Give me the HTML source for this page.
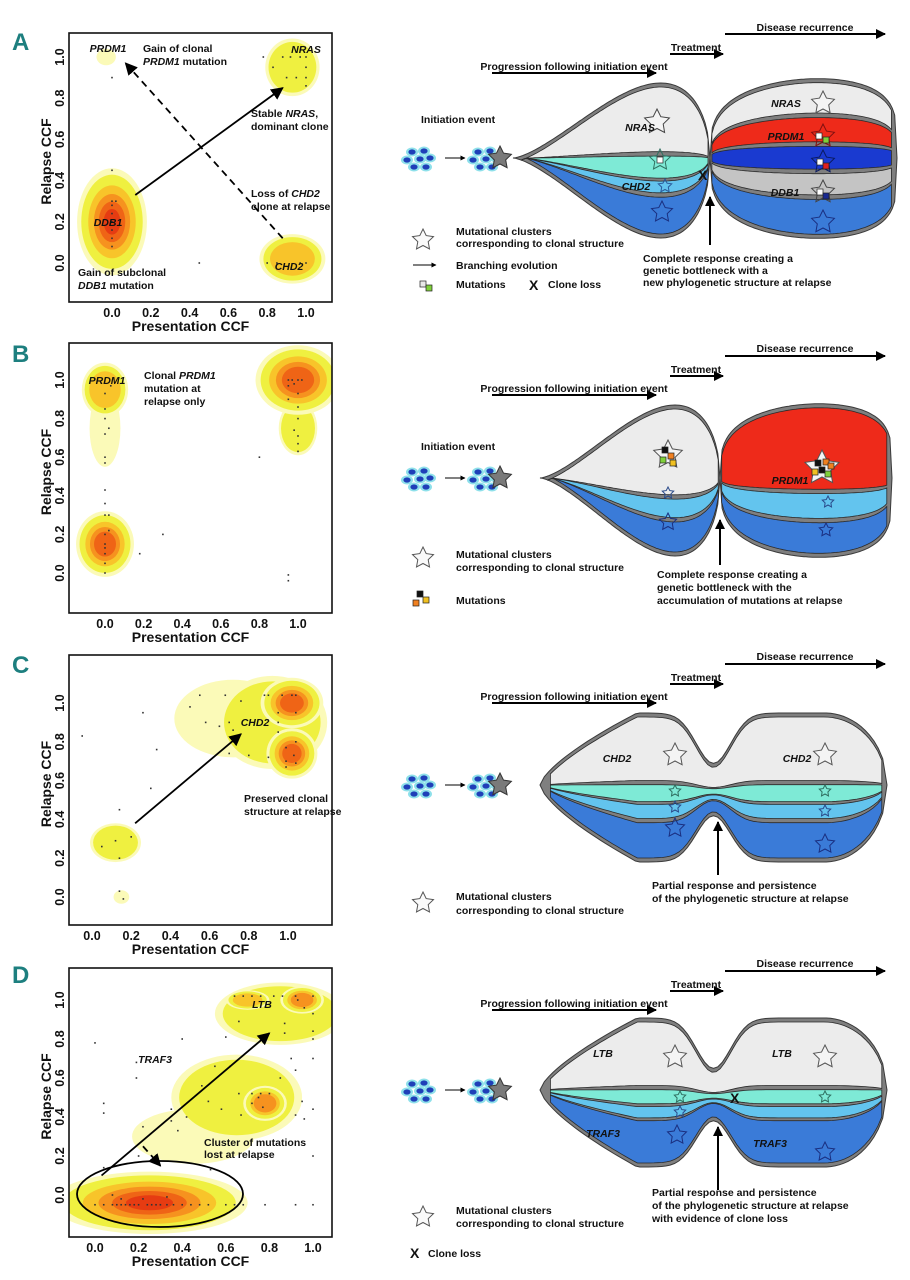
<!DOCTYPE html>
<html><head><meta charset="utf-8"><style>
html,body{margin:0;padding:0;background:#fff}
svg{display:block}
text{font-family:"Liberation Sans Narrow","Liberation Sans",sans-serif;font-weight:bold;fill:#111}
.d{font-size:10.5px}
.it{font-style:italic}
.tk{font-family:"Liberation Sans",sans-serif;font-size:12.5px}
.ttl{font-family:"Liberation Sans",sans-serif;font-size:14px}
.pl{font-size:24px;fill:#1d7f7f;font-family:"Liberation Sans Narrow","Liberation Sans",sans-serif}
</style></head><body>
<svg id="fig" xmlns="http://www.w3.org/2000/svg" width="910" height="1280" viewBox="0 0 910 1280">
<defs>
<marker id="ah" viewBox="0 0 10 10" refX="9" refY="5" markerWidth="7" markerHeight="7" orient="auto-start-reverse"><path d="M0,0 L10,5 L0,10 z" fill="#000"/></marker>
<marker id="ahs" viewBox="0 0 10 10" refX="9" refY="5" markerWidth="5" markerHeight="5" orient="auto"><path d="M0,0 L10,5 L0,10 z" fill="#000"/></marker>
</defs>
<g id="plots"></g>
<g id="diagrams"></g>

<text class="pl" x="12" y="50">A</text>
<text class="pl" x="12" y="362">B</text>
<text class="pl" x="12" y="673">C</text>
<text class="pl" x="12" y="983">D</text>

<g class="d">
<text class="d it" x="108" y="52" text-anchor="middle">PRDM1</text>
<text class="d" x="143" y="52">Gain of clonal</text>
<text class="d" x="143" y="65"><tspan class="it">PRDM1</tspan> mutation</text>
<text class="d it" x="306" y="53" text-anchor="middle">NRAS</text>
<text class="d" x="251" y="117">Stable <tspan class="it">NRAS</tspan>,</text>
<text class="d" x="251" y="130">dominant clone</text>
<text class="d" x="251" y="197">Loss of <tspan class="it">CHD2</tspan></text>
<text class="d" x="251" y="210">clone at relapse</text>
<text class="d it" x="108" y="226" text-anchor="middle">DDB1</text>
<text class="d" x="78" y="276">Gain of subclonal</text>
<text class="d" x="78" y="289"><tspan class="it">DDB1</tspan> mutation</text>
<text class="d it" x="289" y="270" text-anchor="middle">CHD2</text>
</g>
<g>
<text class="d it" x="107" y="384" text-anchor="middle">PRDM1</text>
<text class="d" x="144" y="379">Clonal <tspan class="it">PRDM1</tspan></text>
<text class="d" x="144" y="392">mutation at</text>
<text class="d" x="144" y="405">relapse only</text>
</g>
<g>
<text class="d it" x="255" y="726" text-anchor="middle">CHD2</text>
<text class="d" x="244" y="802">Preserved clonal</text>
<text class="d" x="244" y="815">structure at relapse</text>
</g>
<g>
<text class="d it" x="262" y="1008" text-anchor="middle">LTB</text>
<text class="d it" x="155" y="1063" text-anchor="middle">TRAF3</text>
<text class="d" x="204" y="1146">Cluster of mutations</text>
<text class="d" x="204" y="1158">lost at relapse</text>
</g>

<g>
<text class="d" x="805" y="31" text-anchor="middle">Disease recurrence</text>
<text class="d" x="696" y="51" text-anchor="middle">Treatment</text>
<text class="d" x="574" y="70" text-anchor="middle">Progression following initiation event</text>
<text class="d" x="421" y="123">Initiation event</text>
<text class="d it" x="640" y="131" text-anchor="middle">NRAS</text>
<text class="d it" x="636" y="190" text-anchor="middle">CHD2</text>
<text class="d it" x="786" y="107" text-anchor="middle">NRAS</text>
<text class="d it" x="786" y="140" text-anchor="middle">PRDM1</text>
<text class="d it" x="785" y="196" text-anchor="middle">DDB1</text>
<text class="d" x="456" y="235">Mutational clusters</text>
<text class="d" x="456" y="247">corresponding to clonal structure</text>
<text class="d" x="456" y="269">Branching evolution</text>
<text class="d" x="456" y="288">Mutations</text>
<text x="529" y="290" style="font-size:14px">X</text>
<text class="d" x="548" y="288">Clone loss</text>
<text class="d" x="643" y="262">Complete response creating a</text>
<text class="d" x="643" y="274">genetic bottleneck with a</text>
<text class="d" x="643" y="286">new phylogenetic structure at relapse</text>
</g>
<g>
<text class="d" x="805" y="352" text-anchor="middle">Disease recurrence</text>
<text class="d" x="696" y="373" text-anchor="middle">Treatment</text>
<text class="d" x="574" y="392" text-anchor="middle">Progression following initiation event</text>
<text class="d" x="421" y="450">Initiation event</text>
<text class="d it" x="790" y="484" text-anchor="middle">PRDM1</text>
<text class="d" x="456" y="558">Mutational clusters</text>
<text class="d" x="456" y="571">corresponding to clonal structure</text>
<text class="d" x="456" y="604">Mutations</text>
<text class="d" x="657" y="578">Complete response creating a</text>
<text class="d" x="657" y="591">genetic bottleneck with the</text>
<text class="d" x="657" y="604">accumulation of mutations at relapse</text>
</g>
<g>
<text class="d" x="805" y="660" text-anchor="middle">Disease recurrence</text>
<text class="d" x="696" y="681" text-anchor="middle">Treatment</text>
<text class="d" x="574" y="700" text-anchor="middle">Progression following initiation event</text>
<text class="d it" x="617" y="762" text-anchor="middle">CHD2</text>
<text class="d it" x="797" y="762" text-anchor="middle">CHD2</text>
<text class="d" x="456" y="900">Mutational clusters</text>
<text class="d" x="456" y="914">corresponding to clonal structure</text>
<text class="d" x="652" y="889">Partial response and persistence</text>
<text class="d" x="652" y="902">of the phylogenetic structure at relapse</text>
</g>
<g>
<text class="d" x="805" y="967" text-anchor="middle">Disease recurrence</text>
<text class="d" x="696" y="988" text-anchor="middle">Treatment</text>
<text class="d" x="574" y="1007" text-anchor="middle">Progression following initiation event</text>
<text class="d it" x="603" y="1057" text-anchor="middle">LTB</text>
<text class="d it" x="782" y="1057" text-anchor="middle">LTB</text>
<text class="d it" x="603" y="1137" text-anchor="middle">TRAF3</text>
<text class="d it" x="770" y="1147" text-anchor="middle">TRAF3</text>
<text x="730" y="1103" style="font-size:14px">X</text>
<text class="d" x="456" y="1214">Mutational clusters</text>
<text class="d" x="456" y="1227">corresponding to clonal structure</text>
<text x="410" y="1258" style="font-size:14px">X</text>
<text class="d" x="428" y="1257">Clone loss</text>
<text class="d" x="652" y="1196">Partial response and persistence</text>
<text class="d" x="652" y="1209">of the phylogenetic structure at relapse</text>
<text class="d" x="652" y="1222">with evidence of clone loss</text>
</g>
</svg>
<script>
const tickValues=[0,0.2,0.4,0.6,0.8,1.0];
const tickLabels=['0.0','0.2','0.4','0.6','0.8','1.0'];
// density blobs: [cx, cy, rx, ry, levels] in CCF units
const blobsA=[[-0.03,1.0,0.05,0.04,1],[0.93,0.95,0.14,0.14,2],[0.0,0.2,0.18,0.26,6],[0.93,0.02,0.17,0.12,3]];
const blobsB=[[0.0,0.75,0.08,0.2,1],[0.0,0.95,0.12,0.14,3],[0.0,0.15,0.15,0.17,5],[1.0,0.75,0.1,0.14,2],[1.0,1.0,0.22,0.18,5]];
const blobsC=[[0.72,0.92,0.3,0.2,1],[0.92,0.9,0.28,0.24,2],[1.02,1.0,0.16,0.13,5],[1.02,0.74,0.13,0.13,5],[0.12,0.28,0.13,0.1,2],[0.15,0.0,0.04,0.035,1]];
const blobsD=[[0.45,0.3,0.28,0.14,1],[0.65,0.5,0.3,0.22,2],[0.78,0.47,0.1,0.09,4],[0.85,0.93,0.3,0.16,2],[0.7,1.0,0.1,0.05,3],[0.95,1.0,0.1,0.07,4],[0.25,-0.04,0.45,0.16,6]];
const pointsA=[[0.78,1.0],[0.88,1.0],[0.92,1.0],[0.97,1.0],[1.0,1.0],[0.83,0.95],[1.0,0.95],[0.9,0.9],[0.95,0.9],[1.0,0.9],[1.0,0.86],[0,0.08],[0,0.12],[0,0.16],[0,0.2],[0,0.24],[0,0.28],[0,0.3],[0.02,0.3],[0,0.45],[0,0.9],[0.8,0],[0.85,0],[0.97,0],[1.0,0],[0.45,0]];
const pointsB=[[0,0],[0,0.05],[0,0.1],[0,0.13],[0,0.15],[0,0.2],[0.02,0.22],[0,0.3],[0.02,0.3],[0,0.36],[0,0.43],[0,0.57],[0,0.6],[0,0.72],[0.02,0.75],[0,0.8],[0,0.85],[0,0.93],[0.03,0.97],[0.18,0.1],[0.3,0.2],[0.8,0.6],[0.95,-0.01],[0.95,-0.04],[0.95,1.0],[0.97,1.0],[1.0,1.0],[1.02,1.0],[0.98,0.98],[0.95,0.97],[1.0,0.93],[0.95,0.9],[1.0,0.86],[1.0,0.8],[0.98,0.74],[1.0,0.71],[1.0,0.67],[1.0,0.63]];
const pointsC=[[-0.05,0.83],[0.14,0.45],[0.14,0.2],[0.05,0.26],[0.12,0.29],[0.2,0.31],[0.14,0.03],[0.16,-0.01],[0.26,0.95],[0.3,0.56],[0.33,0.76],[0.5,0.98],[0.55,1.04],[0.68,1.04],[0.58,0.9],[0.65,0.88],[0.7,0.9],[0.72,0.86],[0.7,0.74],[0.8,0.73],[0.76,1.01],[0.88,1.04],[0.9,1.04],[0.97,1.04],[1.02,1.04],[1.04,1.04],[0.95,0.95],[1.04,0.95],[0.95,0.9],[0.95,0.85],[0.9,0.72],[0.99,0.77],[1.04,0.8],[0.99,0.7],[1.03,0.73],[0.99,0.67],[1.04,0.69]];
const pointsD=[[0,-0.05],[0.04,-0.05],[0.08,-0.05],[0.1,-0.05],[0.12,-0.05],[0.14,-0.05],[0.16,-0.05],[0.18,-0.05],[0.2,-0.05],[0.24,-0.05],[0.26,-0.05],[0.28,-0.05],[0.3,-0.05],[0.33,-0.05],[0.36,-0.05],[0.4,-0.05],[0.44,-0.05],[0.48,-0.05],[0.52,-0.05],[0.6,-0.05],[0.64,-0.05],[0.68,-0.05],[0.78,-0.05],[0.92,-0.05],[1.0,-0.05],[0.08,0],[0.12,-0.02],[0.22,-0.02],[0.33,-0.01],[0.04,0.14],[0.2,0.2],[0.53,0.13],[1.0,0.2],[0.04,0.47],[0.04,0.42],[0,0.78],[0.19,0.68],[0.19,0.6],[0.22,0.35],[0.35,0.44],[0.38,0.33],[0.35,0.38],[0.42,0.4],[0.49,0.56],[0.52,0.48],[0.58,0.44],[0.55,0.66],[0.62,0.66],[0.66,0.52],[0.67,0.41],[0.72,0.47],[0.72,0.52],[0.75,0.5],[0.77,0.45],[0.76,0.52],[0.8,0.52],[0.85,0.6],[0.92,0.64],[0.95,0.48],[1.0,0.44],[0.92,0.41],[0.96,0.39],[0.4,0.8],[0.6,0.81],[0.66,0.89],[0.64,1.02],[0.68,1.02],[0.72,1.02],[0.76,1.02],[0.82,1.02],[0.86,1.02],[0.92,1.02],[0.93,1.0],[0.96,0.96],[1.0,1.02],[1.0,0.93],[1.0,0.84],[1.0,0.8],[0.87,0.88],[0.87,0.83],[0.9,0.7],[1.0,0.7]];
const arrowsA=[[0.12,0.33,0.88,0.85,0],[0.88,0.12,0.07,0.97,1]];
const arrowsC=[[0.22,0.38,0.76,0.84,0]];
const arrowsD=[[0.03,0.1,0.8,0.83,0],[0.22,0.25,0.3,0.15,1]];

const NS='http://www.w3.org/2000/svg';
const plotsG=document.getElementById('plots');
const diagG=document.getElementById('diagrams');
const defs=document.querySelector('defs');
function mk(tag,parent){const e=document.createElementNS(NS,tag);parent.appendChild(e);return e;}
function sa(e,o){for(const k in o)e.setAttribute(k,o[k]);return e;}
const levelColors=['#fbfab8','#eff040','#f8c42a','#f6921f','#ef6416','#e63c12'];
const levelScale=[1,0.88,0.68,0.52,0.38,0.24];

function drawPlot(id,box,xr,yr,blobs,points,arrows){
  const g=mk('g',plotsG);
  
  
  const cp=mk('clipPath',defs);cp.setAttribute('id','clip-'+id);
  const cr=mk('rect',cp);sa(cr,{x:box[0],y:box[1],width:box[2]-box[0],height:box[3]-box[1]});
  const dg=mk('g',g);dg.setAttribute('clip-path','url(#clip-'+id+')');
  
  
  const xs=v=>xr[0]+v*(xr[1]-xr[0]);
  const ys=v=>yr[0]-v*(yr[0]-yr[1]);
  const ux=xr[1]-xr[0], uy=yr[0]-yr[1];
  blobs.forEach(b=>{
    for(let i=0;i<b[4];i++){
      const e=mk('ellipse',dg);
      sa(e,{cx:xs(b[0]),cy:ys(b[1]),rx:b[2]*ux*levelScale[i],ry:b[3]*uy*levelScale[i],fill:levelColors[i]});
      
      
    }
  });
  points.forEach(p=>{
    const c=mk('rect',dg);
    sa(c,{x:xs(p[0])-0.8,y:ys(p[1])-0.8,width:1.6,height:1.6,fill:'#333'});
    
    
  });
  arrows.forEach(a=>{
    const l=mk('line',g);
    sa(l,{x1:xs(a[0]),y1:ys(a[1]),x2:xs(a[2]),y2:ys(a[3]),stroke:'#000','stroke-width':1.8,'marker-end':'url(#ah)'});
    if(a[4])l.setAttribute('stroke-dasharray','7,5');
    
    
  });
  const r=mk('rect',g);
  sa(r,{x:box[0],y:box[1],width:box[2]-box[0],height:box[3]-box[1],fill:'none',stroke:'#111','stroke-width':1.6});
  
  
  tickValues.forEach((v,i)=>{
    const t=mk('text',g);t.textContent=tickLabels[i];
    sa(t,{x:xs(v),y:box[3]+15,'text-anchor':'middle','class':'tk'});
    
    
    const u=mk('text',g);u.textContent=tickLabels[i];
    sa(u,{x:0,y:0,'text-anchor':'middle','class':'tk',transform:'translate(64,'+ys(v)+') rotate(-90)'});
    
    
  });
  const xt=mk('text',g);xt.textContent='Presentation CCF';
  sa(xt,{x:(box[0]+box[2])/2-10,y:box[3]+29,'text-anchor':'middle','class':'ttl'});
  
  
  const yt=mk('text',g);yt.textContent='Relapse CCF';
  sa(yt,{x:0,y:0,'text-anchor':'middle','class':'ttl',transform:'translate(51,'+((box[1]+box[3])/2-6)+') rotate(-90)'});
  
  
}
drawPlot('a',[69,33,332,302],[112,306],[263,57],blobsA,pointsA,arrowsA);
drawPlot('b',[69,343,332,613],[105,298],[573,380],blobsB,pointsB,[]);
drawPlot('c',[69,655,332,925],[92,288],[897,703],blobsC,pointsC,arrowsC);
drawPlot('d',[69,968,332,1237],[95,313],[1195,1000],blobsD,pointsD,arrowsD);
const ell=mk('ellipse',plotsG);
sa(ell,{cx:160,cy:1194,rx:83,ry:33,fill:'none',stroke:'#000','stroke-width':1.8});



// ---------- diagrams ----------
function shapePath(x0,x1,top,bot,pad,s,e,ta,tb){
  const N=80,up=[],dn=[];
  for(let i=0;i<=N;i++){
    const t=ta+(tb-ta)*i/N,x=x0+(x1-x0)*t;
    const T=top(t)+pad,B=bot(t)-pad,h=Math.max(0,B-T);
    up.push([x,T+h*s]);dn.push([x,T+h*e]);
  }
  let d='M'+up.map(p=>p[0].toFixed(1)+','+p[1].toFixed(1)).join(' L');
  d+=' L'+dn.reverse().map(p=>p[0].toFixed(1)+','+p[1].toFixed(1)).join(' L')+' Z';
  return d;
}
function drawShape(x0,x1,top,bot,bands,ta,tb,name){
  const o=mk('path',diagG);
  sa(o,{d:shapePath(x0,x1,top,bot,0,0,1,0,1),fill:'#7f7f7f',stroke:'#3a3a3a','stroke-width':1});
  
  
  bands.forEach(b=>{
    const p=mk('path',diagG);
    sa(p,{d:shapePath(x0,x1,top,bot,4,b[0],b[1],ta,tb),fill:b[2],stroke:'#2a2a2a','stroke-width':0.8});
    
    
  });
}
function star(cx,cy,r,fill,stroke){
  let pts=[];
  for(let i=0;i<10;i++){const a=-Math.PI/2+i*Math.PI/5,rr=i%2?r*0.5:r;pts.push((cx+rr*Math.cos(a)).toFixed(1)+','+(cy+rr*Math.sin(a)).toFixed(1));}
  const s=mk('polygon',diagG);
  sa(s,{points:pts.join(' '),fill:fill,stroke:stroke,'stroke-width':1});
  
  
}
function arrow(x1,y1,x2,y2,w,name){
  const l=mk('line',diagG);
  sa(l,{x1:x1,y1:y1,x2:x2,y2:y2,stroke:'#000','stroke-width':w,'marker-end':'url(#ahs)'});
  
  
}
function sq(x,y,f){const r=mk('rect',diagG);sa(r,{x:x-3,y:y-3,width:6,height:6,fill:f,stroke:'#222','stroke-width':0.7});
  
  }
function cells(x,cy){
  const off=[[0,-6],[12,-7],[-5,2],[8,1],[18,0],[2,9],[14,9]];
  off.forEach(o=>{
    const h=mk('ellipse',diagG);sa(h,{cx:x+o[0],cy:cy+o[1],rx:6,ry:4.5,fill:'#8ee0ea'});
    
    
  });
  off.forEach(o=>{
    const c=mk('ellipse',diagG);sa(c,{cx:x+o[0],cy:cy+o[1],rx:3.6,ry:2.6,fill:'#1f3fb8'});
    
    
  });
}
function header(y){
  arrow(725,y,885,y,2,'disease-recurrence-arrow');
  arrow(670,y+20,723,y+20,2,'treatment-arrow');
  arrow(492,y+39,656,y+39,2,'progression-arrow');
}
function initCells(cy){
  cells(412,cy);arrow(445,cy,465,cy,1,'initiation-arrow');cells(478,cy);star(500,cy,12,'#7a7a7a','#333');
}
const LG='#ececec',TEAL='#7eead6',LB='#63c4ee',BL='#3a7bd8',RED='#ee2a1a',DB='#1a3ad0',GR='#c4c4c4';
function lensL(x0,x1,cy,hu,hd){const f=t=>Math.pow(t,1.5)*Math.pow(1-t,0.5)/0.3248;
  return [t=>cy-hu*f(t),t=>cy+hd*f(t)];}
function lensR(cy,hu,hd){const f=t=>Math.pow(t,0.3)*Math.pow(1-t,0.22)/0.69;
  return [t=>cy-hu*f(t),t=>cy+hd*f(t)];}
function tube(cy,hu,hd,du,dd){
  const env=t=>Math.min(1,Math.pow(t/0.28,0.7))*(t>0.82?Math.sqrt(Math.max(0,1-Math.pow((t-0.82)/0.18,2))):1);
  const w=t=>Math.exp(-Math.pow((t-0.5)/0.07,2));
  return [t=>cy-hu*env(t)*(1-du*w(t)),t=>cy+hd*env(t)*(1-dd*w(t))];}

// A
header(34);initCells(158);
let L=lensL(513,710,158,75,80);drawShape(513,710,L[0],L[1],[[0,0.44,LG],[0.47,0.62,TEAL],[0.64,0.72,LB],[0.75,1,BL]],0.04,0.99,'left-lens-a');
let R=lensR(158,78,79);drawShape(710,897,R[0],R[1],[[0,0.2,LG],[0.23,0.39,RED],[0.42,0.57,DB],[0.6,0.74,GR],[0.77,1,BL]],0.01,0.97,'right-lens-a');
star(657,122,13,'#f4f4f4','#444');star(660,160,11,'none','#2f6f60');sq(660,160,'#fff');star(665,186,7,'none','#2a5a9a');star(662,212,11,'none','#1a2f80');
star(823,103,12,'#f4f4f4','#555');star(823,136,12,'none','#801010');sq(819,136,'#fff');sq(826,140,'#7fd03a');
star(823,162,12,'none','#0a1a60');sq(820,162,'#fff');sq(826,166,'#e02020');star(823,192,12,'none','#444');sq(820,192,'#fff');sq(826,196,'#1a2a90');star(823,222,12,'none','#1a2f80');
const xA=mk('text',diagG);xA.textContent='X';sa(xA,{x:698,y:180,style:'font-size:14px'});


arrow(710,245,710,197,2,'bottleneck-arrow');
star(423,240,11,'#fafafa','#555');
arrow(413,265,436,265,1,'legend-branching-arrow');sq(423,284,'#e8e8e8');sq(429,288,'#7fd03a');

// B
header(356);initCells(478);
L=lensL(540,720,478,73,78);drawShape(540,720,L[0],L[1],[[0,0.6,LG],[0.63,0.76,LB],[0.79,1,BL]],0.04,0.99,'left-lens-b');
R=lensR(478,73,78);drawShape(720,892,R[0],R[1],[[0,0.56,RED],[0.59,0.76,LB],[0.79,1,BL]],0.01,0.97,'right-lens-b');
star(668,455,15,'#f4f4f4','#555');sq(665,450,'#111');sq(671,456,'#f08020');sq(663,460,'#7fd03a');sq(673,463,'#f0c020');
star(668,493,6,'none','#2a4a8a');star(668,522,9,'none','#1a2f80');
star(822,468,18,'#f4f4f4','#555');sq(818,463,'#111');sq(826,462,'#f08020');sq(822,470,'#111');sq(815,472,'#f0c020');sq(828,474,'#7fd03a');sq(831,466,'#f08020');
star(828,502,6,'none','#2a4a8a');star(826,530,7,'none','#1a2f80');
arrow(720,565,720,520,2,'bottleneck-arrow');
star(423,558,11,'#fafafa','#555');sq(420,594,'#111');sq(426,600,'#f0c020');sq(416,603,'#f08020');

// C
header(664);initCells(785);
let T=tube(785,72,77,0.7,0.6);drawShape(540,887,T[0],T[1],[[0,0.45,LG],[0.48,0.6,TEAL],[0.62,0.72,LB],[0.75,1,BL]],0.03,0.985,'clone-tube-c');
star(675,755,12,'#f4f4f4','#555');star(825,755,12,'#f4f4f4','#555');star(675,791,6,'none','#2f6f60');star(825,791,6,'none','#2f6f60');
star(675,807,6,'none','#2a4a8a');star(825,811,6,'none','#2a4a8a');star(675,828,10,'none','#1a2f80');star(825,844,10,'none','#1a2f80');
arrow(718,875,718,822,2,'partial-response-arrow');
star(423,903,11,'#fafafa','#555');

// D
header(971);initCells(1090);
T=tube(1090,72,77,0.7,0.6);drawShape(540,887,T[0],T[1],[[0,0.45,LG],[0.48,0.58,TEAL],[0.6,0.68,LB],[0.7,1,BL]],0.03,0.985,'clone-tube-d');
star(675,1057,12,'#f4f4f4','#555');star(825,1057,12,'#f4f4f4','#555');star(680,1097,6,'none','#2f6f60');star(825,1097,6,'none','#2f6f60');
star(680,1112,6,'none','#2a4a8a');star(677,1135,10,'none','#1a2f80');star(825,1152,10,'none','#1a2f80');
arrow(718,1190,718,1127,2,'partial-response-arrow');
star(423,1217,11,'#fafafa','#555');
</script>
</body></html>
